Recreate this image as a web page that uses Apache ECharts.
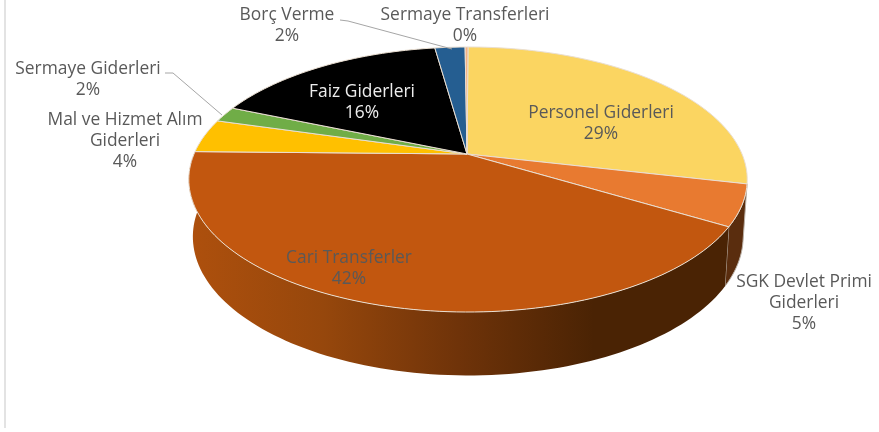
<!DOCTYPE html>
<html><head><meta charset="utf-8">
<style>html,body{margin:0;padding:0;background:#fff}#c{width:879px;height:432px;filter:blur(0.45px)}</style>
<script src="https://cdn.jsdelivr.net/npm/echarts@6/dist/echarts.min.js"></script>
</head><body><div id="c"></div>
<script>
// --- data (share of total, %) ---
const categories = ['Personel Giderleri','SGK Devlet Primi Giderleri','Cari Transferler','Mal ve Hizmet Alım Giderleri','Sermaye Giderleri','Faiz Giderleri','Borç Verme','Sermaye Transferleri'];
const values = [28.6, 5.0, 41.7, 4.1, 1.9, 16.4, 2.1, 0.2];

// --- styles ---
const colors = ['#FBD561','#E87A30','#C2570F','#FFC000','#70AD47','#000000','#255E91','#F4B183'];
const labelLines = [
  ['Personel Giderleri'],['SGK Devlet Primi','Giderleri'],['Cari Transferler'],['Mal ve Hizmet Alım','Giderleri'],
  ['Sermaye Giderleri'],['Faiz Giderleri'],['Borç Verme'],['Sermaye Transferleri']];
const labelAnchor = [[601,124],[804,303],[349,269],[125,141],[88,80],[362,103],[287,26],[465,26]];
const labelColor = ['#595959','#595959','#595959','#595959','#595959','#EDEDED','#595959','#595959'];
const leaders = {4:[[165,73],[173,73],[222,115]], 6:[[340,20],[348,21],[452,49]]};

// --- perspective disk model: top and bottom faces of the pie ---
const K = 0.1925;
const topFace = {x:468, y:154, a:274, b:127.6};
const botFace = {x:468, y:210, a:270, b:133.6};
function project(face, deg){
  const t = deg*Math.PI/180, u = Math.sin(t), w = Math.cos(t), d = 1+K*w;
  return [face.x+face.a*u/d, face.y-face.b*w/d];
}
function arc(face, from, to){
  const n = Math.max(2, Math.ceil(Math.abs(to-from)/1.5)), p = [];
  for(let i=0;i<=n;i++) p.push(project(face, from+(to-from)*i/n));
  return p;
}
const total = values.reduce((a,b)=>a+b,0);
function span(i){
  let s = 0; for(let j=0;j<i;j++) s += values[j];
  return [s/total*360, (s+values[i])/total*360];
}
const rows = categories.map((name,i)=>({name, value:[values[i]]}));
const wallFill = {
  1:'#5A2D0E',
  2:{type:'linear',x:0,y:0,x2:1,y2:0,colorStops:[
    {offset:0,color:'#AE500D'},{offset:0.25,color:'#96470C'},{offset:0.5,color:'#6F3309'},
    {offset:0.75,color:'#4A2304'},{offset:1,color:'#4A2304'}]}
};

const option = {
  animation:false,
  backgroundColor:'#fff',
  graphic:[{type:'line',silent:true,shape:{x1:5,y1:0,x2:5,y2:428},style:{stroke:'#DADADA',lineWidth:1.5}}],
  series:[
    {type:'custom',name:'wall',coordinateSystem:'none',silent:true,z:1,data:rows,
     renderItem(p,api){
       const i=p.dataIndex, fill=wallFill[i];
       if(!fill) return {type:'group',children:[]};
       const [a,b]=span(i);
       const pts=arc(topFace,a,b).concat(arc(botFace,b,a));
       return {type:'polygon',shape:{points:pts},style:{fill,stroke:i===1?'#B9AFA5':'none',lineWidth:i===1?1:0}};
     }},
    {type:'custom',name:'top',coordinateSystem:'none',silent:true,z:2,data:rows,
     renderItem(p,api){
       const i=p.dataIndex, [a,b]=span(i);
       const pts=[[topFace.x-1,topFace.y]].concat(arc(topFace,a,b));
       return {type:'polygon',shape:{points:pts},style:{fill:colors[i],stroke:'#EADFD2',lineWidth:1,lineJoin:'round'}};
     }},
    {type:'custom',name:'labels',coordinateSystem:'none',silent:true,z:3,data:rows,
     renderItem(p,api){
       const i=p.dataIndex, pct=Math.round(api.value(0)/total*100)+'%';
       const kids=[{type:'text',style:{
         x:labelAnchor[i][0],y:labelAnchor[i][1],
         text:labelLines[i].concat([pct]).join('\n'),
         fill:labelColor[i],font:'17.4px "Open Sans"',lineHeight:21,align:'center',verticalAlign:'middle'}}];
       if(leaders[i]) kids.push({type:'polyline',shape:{points:leaders[i]},style:{stroke:'#A6A6A6',lineWidth:1,fill:'none'}});
       return {type:'group',children:kids};
     }}
  ]
};
echarts.init(document.getElementById('c'),null,{renderer:'canvas'}).setOption(option);
</script></body></html>
